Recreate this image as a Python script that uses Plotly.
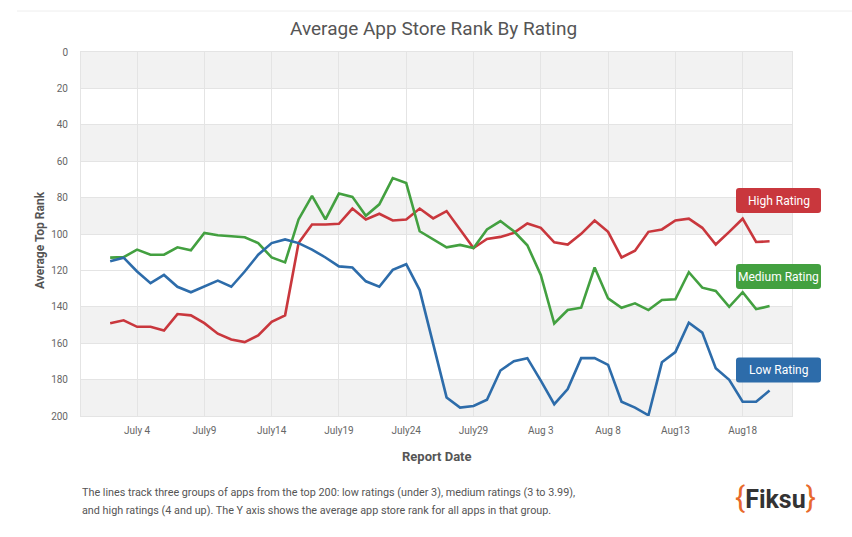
import pandas as pd
import plotly.graph_objects as go

dates = pd.date_range("2013-07-02", "2013-08-20", freq="D")

high_rating = [149, 147.4, 151, 151, 153, 144, 144.7, 149, 154.8, 158,
               159.4, 155.7, 148.3, 144.7, 105, 94.8, 94.8, 94.4, 86, 92,
               88.9, 92.6, 92, 86, 91.4, 87.4, 97.5, 107.7, 102.7, 101.6,
               99.4, 94.2, 96.6, 104.6, 105.8, 99.9, 92.6, 98.8, 112.9, 109.2,
               98.8, 97.5, 92.6, 91.6, 96.6, 105.8, 98.8, 91.6, 104.4, 104]
medium_rating = [113, 112.7, 108.6, 111.4, 111.4, 107.3, 109, 99.4, 100.7, 101.2,
                 101.8, 105, 112.9, 115.6, 92, 79, 92, 77.8, 79.6, 90,
                 83.7, 69.3, 72, 98.5, 103, 107.3, 106, 107.7, 97.5, 92.9,
                 98.5, 106.2, 122.5, 149.2, 141.8, 140.5, 118.4, 135.4, 140.5, 138.1,
                 141.8, 136.3, 135.9, 121, 129.5, 131.3, 140, 132, 141.3, 139.6]
low_rating = [115, 113, 120.6, 127, 122.5, 129, 132, 129, 125.6, 129,
              120.6, 111.4, 105, 103, 105, 108.6, 112.9, 117.8, 118.4, 126,
              129, 119.7, 116.6, 130.8, 161, 189.8, 195.4, 194.5, 191.1, 175,
              169.9, 168.2, 180.6, 193.5, 185.2, 168.2, 168.2, 171.9, 192.2, 195.4,
              199.6, 170.5, 164.9, 148.7, 154.2, 173.8, 180.1, 192.2, 192.2, 186]

tick_dates = ["2013-07-04", "2013-07-09", "2013-07-14", "2013-07-19", "2013-07-24",
              "2013-07-29", "2013-08-03", "2013-08-08", "2013-08-13", "2013-08-18"]
tick_labels = ["July 4", "July9", "July14", "July19", "July24",
               "July29", "Aug 3", "Aug 8", "Aug13", "Aug18"]
y_ticks = [0, 20, 40, 60, 80, 100, 120, 140, 160, 180, 200]
gray_bands = [(0, 20), (40, 60), (80, 100), (140, 160), (180, 200)]

series = [
    ("High Rating", high_rating, "#c9373d", 200.5),
    ("Medium Rating", medium_rating, "#43a040", 276.5),
    ("Low Rating", low_rating, "#2d6caa", 370),
]

footer_lines = [
    "The lines track three groups of apps from the top 200: low ratings (under 3), "
    "medium ratings (3 to 3.99),",
    "and high ratings (4 and up). The Y axis shows the average app store rank for "
    "all apps in that group.",
]

L, R, T, B = 81, 792, 52, 416
W, H = 852, 537


def px(x):
    return (x - L) / (R - L)


def py(y):
    return (B - y) / (B - T)


FONT = "Roboto, DejaVu Sans, sans-serif"

fig = go.Figure()
for name, vals, color, _ in series:
    fig.add_trace(go.Scatter(x=dates, y=vals, mode="lines", name=name,
                             line=dict(color=color, width=2.6)))

shapes = []
for a, b in gray_bands:
    shapes.append(dict(type="rect", xref="paper", yref="y", x0=0, x1=1, y0=a, y1=b,
                       fillcolor="#f2f2f2", line=dict(width=0), layer="below"))
shapes.append(dict(type="line", xref="paper", yref="paper", x0=px(17), x1=px(852),
                   y0=py(11), y1=py(11), line=dict(color="#eeeeee", width=1)))


def ann(x, y, text, size, color="#555555", **kw):
    d = dict(x=px(x), y=py(y), xref="paper", yref="paper", text=text, showarrow=False,
             xanchor="center", yanchor="middle",
             font=dict(family=FONT, size=size, color=color))
    d.update(kw)
    return d


annotations = []
rx, ry = 3 / (R - L), 3 / (B - T)
for name, vals, color, cy in series:
    x0, x1 = px(736), px(821)
    y0, y1 = py(cy + 12.5), py(cy - 12.5)
    path = (f"M {x0+rx},{y0} L {x1-rx},{y0} Q {x1},{y0} {x1},{y0+ry} "
            f"L {x1},{y1-ry} Q {x1},{y1} {x1-rx},{y1} L {x0+rx},{y1} "
            f"Q {x0},{y1} {x0},{y1-ry} L {x0},{y0+ry} Q {x0},{y0} {x0+rx},{y0} Z")
    shapes.append(dict(type="path", xref="paper", yref="paper", path=path,
                       fillcolor=color, line=dict(width=0)))
    annotations.append(ann(778.5, cy, name, 12, "white"))

annotations += [
    ann(433, 28, "Average App Store Rank By Rating", 19),
    ann(40, 240, "<b>Average Top Rank</b>", 12, textangle=-90),
    ann(437, 456, "<b>Report Date</b>", 13),
    ann(80, 493, footer_lines[0], 10.8, xanchor="left"),
    ann(80, 510, footer_lines[1], 10.8, xanchor="left"),
    ann(775, 497,
        "<span style='color:#e8692c;font-size:30px'>{</span><b>Fiksu</b>"
        "<span style='color:#e8692c;font-size:30px'>}</span>", 25, "#333333"),
]

fig.update_layout(
    width=W, height=H,
    margin=dict(l=L, r=W - R, t=T, b=H - B),
    paper_bgcolor="white", plot_bgcolor="white",
    showlegend=False,
    shapes=shapes, annotations=annotations,
    xaxis=dict(type="date", range=["2013-06-29 20:00", "2013-08-21 16:00"],
               tickvals=tick_dates, ticktext=tick_labels,
               showgrid=True, gridcolor="#e4e4e4", zeroline=False,
               showline=True, linecolor="#e4e4e4", mirror=True,
               ticks="", ticklabelstandoff=5,
               tickfont=dict(family=FONT, size=10, color="#666666")),
    yaxis=dict(range=[200, 0], tickvals=y_ticks,
               showgrid=True, gridcolor="#e4e4e4", zeroline=False,
               showline=True, linecolor="#e4e4e4", mirror=True,
               ticks="", ticklabelstandoff=10,
               tickfont=dict(family=FONT, size=10, color="#666666")),
)

fig.write_html("out.html")
